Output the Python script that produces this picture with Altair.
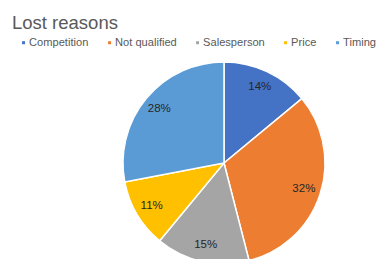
import altair as alt
import pandas as pd

title_text = "Lost reasons"
categories = ["Competition", "Not qualified", "Salesperson", "Price", "Timing"]
values = [14, 32, 15, 11, 28]
colors = ["#4472C4", "#ED7D31", "#A5A5A5", "#FFC000", "#5B9BD5"]

df = pd.DataFrame({
    "category": categories,
    "value": values,
    "idx": list(range(len(categories))),
    "label": [f"{v}%" for v in values],
})

CX, CY, R = 216, 155, 101

base = alt.Chart(df).encode(
    theta=alt.Theta("value:Q", stack=True),
    order=alt.Order("idx:Q"),
)

pie = base.mark_arc(outerRadius=R, stroke="white", strokeWidth=1.5).encode(
    x=alt.value(CX),
    y=alt.value(CY),
    color=alt.Color(
        "category:N",
        sort=categories,
        scale=alt.Scale(domain=categories, range=colors),
        legend=alt.Legend(
            title=None,
            orient="none",
            legendX=10,
            legendY=29,
            direction="horizontal",
            columns=5,
            symbolType="square",
            symbolSize=9,
            symbolStrokeWidth=0,
            labelFontSize=11.1,
            labelFont="Liberation Sans",
            labelColor="#595959",
            labelOffset=0,
            columnPadding=15,
            padding=0,
        ),
    ),
)

labels = base.mark_text(
    radius=84, fontSize=11.5, font="Liberation Sans", color="#262626"
).encode(
    x=alt.value(CX),
    y=alt.value(CY),
    text="label:N",
)

title = alt.Chart(pd.DataFrame({"t": [title_text]})).mark_text(
    align="left", baseline="alphabetic", fontSize=18.5,
    font="Liberation Sans", color="#595959",
).encode(x=alt.value(4), y=alt.value(21), text="t:N")

chart = (pie + labels + title).properties(
    width=370,
    height=260,
    autosize=alt.AutoSizeParams(type="none"),
    padding=0,
).configure_view(stroke=None)

chart.save("out.html", embed_options={"renderer": "svg", "actions": False})
